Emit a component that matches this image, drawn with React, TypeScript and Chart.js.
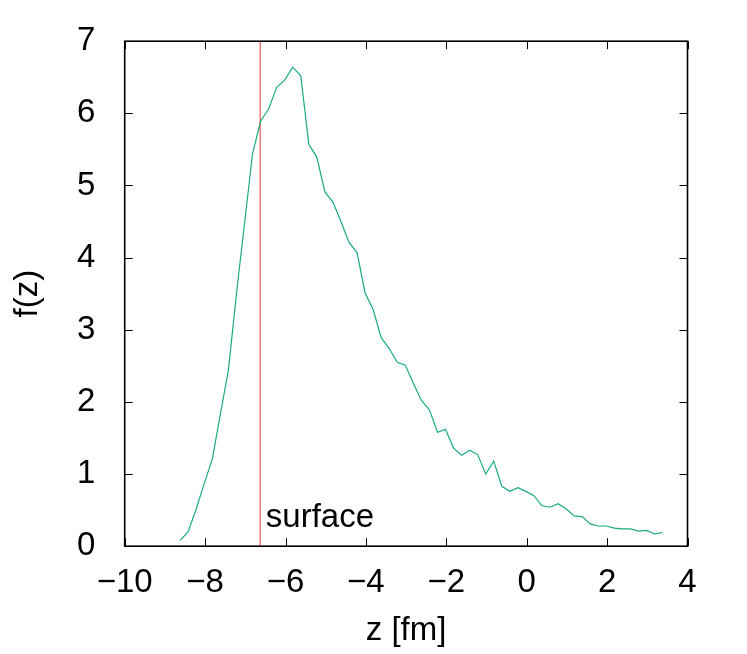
import React, { useEffect, useRef } from 'react';
import { Chart, registerables } from 'chart.js';

Chart.register(...registerables);

// Depth coordinate z [fm] and distribution f(z)
const zValues = [
  -8.62, -8.42, -8.22, -8.02, -7.82, -7.62, -7.42, -7.22, -7.02, -6.82,
  -6.62, -6.42, -6.22, -6.02, -5.82, -5.62, -5.42, -5.22, -5.02, -4.82,
  -4.62, -4.42, -4.22, -4.02, -3.82, -3.62, -3.42, -3.22, -3.02, -2.82,
  -2.62, -2.42, -2.22, -2.02, -1.82, -1.62, -1.42, -1.22, -1.02, -0.82,
  -0.62, -0.42, -0.22, -0.02, 0.18, 0.38, 0.58, 0.78, 0.98, 1.18,
  1.38, 1.58, 1.78, 1.98, 2.18, 2.38, 2.58, 2.78, 2.98, 3.18, 3.38,
];
const fValues = [
  0.08, 0.2, 0.52, 0.87, 1.21, 1.83, 2.44, 3.5, 4.47, 5.44,
  5.89, 6.06, 6.36, 6.46, 6.64, 6.52, 5.57, 5.39, 4.91, 4.77,
  4.5, 4.21, 4.07, 3.51, 3.28, 2.89, 2.74, 2.55, 2.51, 2.26,
  2.02, 1.89, 1.58, 1.62, 1.36, 1.26, 1.33, 1.27, 1.0, 1.18,
  0.83, 0.76, 0.81, 0.76, 0.7, 0.56, 0.54, 0.59, 0.52, 0.42,
  0.41, 0.31, 0.28, 0.28, 0.25, 0.24, 0.24, 0.21, 0.22, 0.17, 0.19,
];

const surfaceZ = -6.63;
const surfaceLabel = 'surface';
const xTicks = [-10, -8, -6, -4, -2, 0, 2, 4];
const yTicks = [0, 1, 2, 3, 4, 5, 6, 7];
const xTitle = 'z [fm]';
const yTitle = 'f(z)';

const FONT = '"Liberation Sans", Arial, Helvetica, sans-serif';
const FONT_SIZE = 33;

const fmt = (v: number) => (v < 0 ? '\u2212' + Math.abs(v) : String(v));

const framePlugin = {
  id: 'gnuplotFrame',
  afterDatasetsDraw(chart: any) {
    const { ctx, chartArea, scales } = chart;
    const { left, right, top, bottom } = chartArea;
    const xs = scales.x;
    const ys = scales.y;
    ctx.save();
    ctx.strokeStyle = '#000';
    ctx.lineWidth = 1;
    const tl = 8;
    ctx.beginPath();
    xTicks.forEach((v) => {
      const px = Math.round(xs.getPixelForValue(v)) + 0.5;
      ctx.moveTo(px, bottom);
      ctx.lineTo(px, bottom - tl);
      ctx.moveTo(px, top);
      ctx.lineTo(px, top + tl);
    });
    yTicks.forEach((v) => {
      const py = Math.round(ys.getPixelForValue(v)) + 0.5;
      ctx.moveTo(left, py);
      ctx.lineTo(left + tl, py);
      ctx.moveTo(right, py);
      ctx.lineTo(right - tl, py);
    });
    ctx.stroke();
    ctx.lineWidth = 1.6;
    ctx.strokeRect(left, top, right - left, bottom - top);

    ctx.fillStyle = '#000';
    ctx.font = `${FONT_SIZE}px ${FONT}`;
    ctx.textAlign = 'left';
    ctx.textBaseline = 'alphabetic';
    ctx.fillText(surfaceLabel, xs.getPixelForValue(surfaceZ + 0.14), ys.getPixelForValue(0.27));
    ctx.restore();
  },
};

export default function App() {
  const ref = useRef<HTMLCanvasElement | null>(null);

  useEffect(() => {
    if (!ref.current) return;
    const font = { family: FONT, size: FONT_SIZE };
    const chart = new Chart(ref.current, {
      type: 'line',
      data: {
        datasets: [
          {
            data: zValues.map((z, i) => ({ x: z, y: fValues[i] })),
            borderColor: '#1aaa80',
            borderWidth: 1.2,
            pointRadius: 0,
            tension: 0,
            fill: false,
          },
          {
            data: [
              { x: surfaceZ, y: yTicks[0] },
              { x: surfaceZ, y: yTicks[yTicks.length - 1] },
            ],
            borderColor: '#e8392b',
            borderWidth: 1,
            pointRadius: 0,
            fill: false,
          },
        ],
      },
      options: {
        responsive: false,
        animation: false,
        layout: { padding: { top: 41, right: 59.5, left: 0, bottom: 0 } },
        plugins: { legend: { display: false }, tooltip: { enabled: false } },
        scales: {
          x: {
            type: 'linear',
            min: xTicks[0],
            max: xTicks[xTicks.length - 1],
            afterBuildTicks: (s: any) => {
              s.ticks = xTicks.map((v) => ({ value: v }));
            },
            afterFit: (s: any) => {
              s.height = 654 - 546.2;
            },
            grid: { display: false },
            border: { display: false },
            ticks: {
              font,
              color: '#000',
              padding: 9,
              maxRotation: 0,
              autoSkip: false,
              callback: (v: any) => fmt(Number(v)),
            },
            title: { display: true, text: xTitle, font, color: '#000', padding: { top: 0, bottom: 3 } },
          },
          y: {
            type: 'linear',
            min: yTicks[0],
            max: yTicks[yTicks.length - 1],
            afterBuildTicks: (s: any) => {
              s.ticks = yTicks.map((v) => ({ value: v }));
            },
            afterFit: (s: any) => {
              s.width = 124.7;
            },
            grid: { display: false },
            border: { display: false },
            ticks: {
              font,
              color: '#000',
              padding: 21.4,
              autoSkip: false,
              callback: (v: any) => fmt(Number(v)),
            },
            title: { display: true, text: yTitle, font, color: '#000', padding: { top: 8, bottom: 0 } },
          },
        },
      },
      plugins: [framePlugin],
    } as any);
    return () => chart.destroy();
  }, []);

  return (
    <div style={{ position: 'fixed', left: 0, top: 0, width: 747, height: 654, background: '#fff' }}>
      <canvas ref={ref} width={747} height={654} style={{ display: 'block' }} />
    </div>
  );
}
